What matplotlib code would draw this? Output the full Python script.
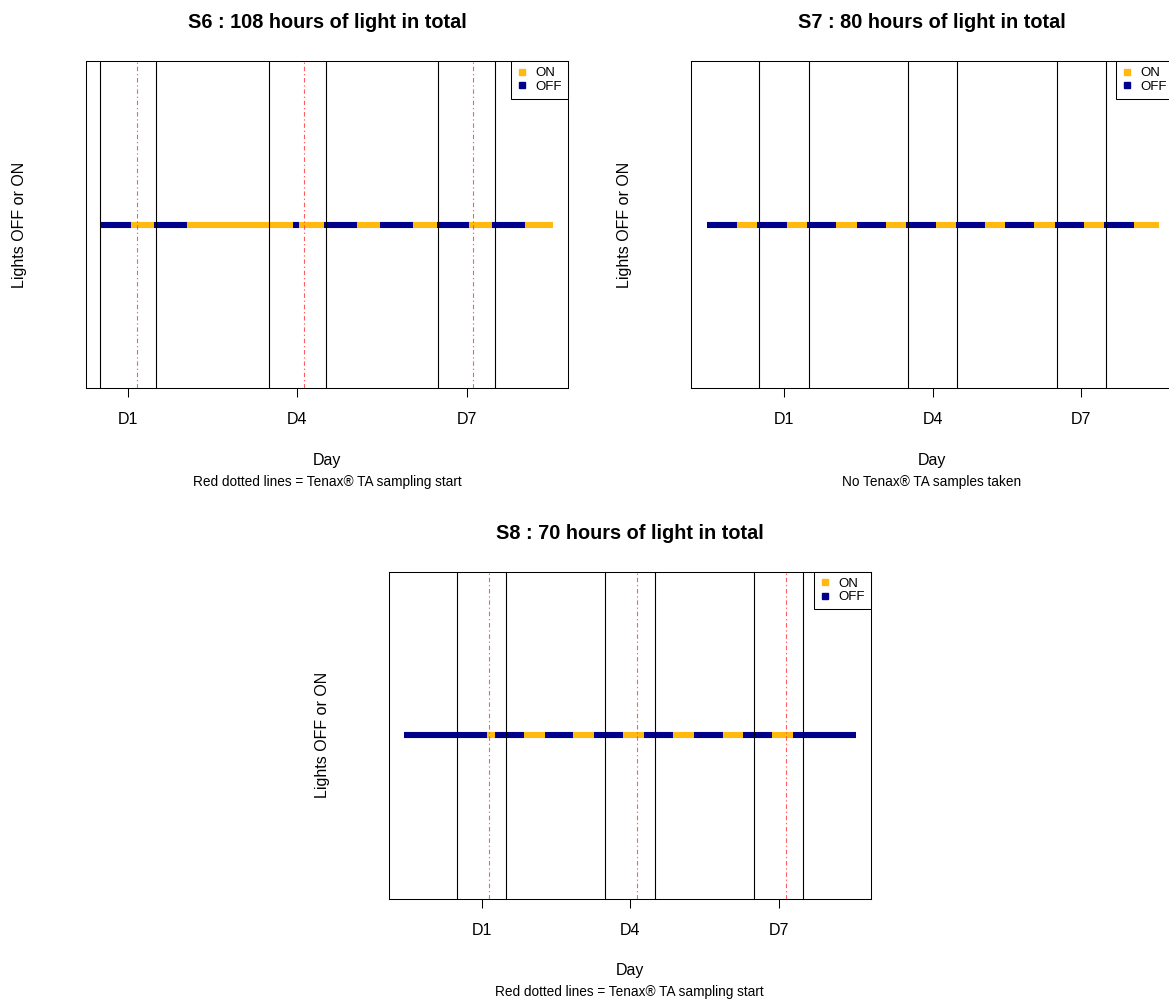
import numpy as np
import matplotlib
matplotlib.use("Agg")
import matplotlib.pyplot as plt
from matplotlib.lines import Line2D

plt.rcParams['font.family'] = ['Liberation Sans', 'DejaVu Sans']

# time axis in hours, D1 = hour 24
day_ticks = [24, 96, 168]
day_labels = ['D1', 'D4', 'D7']
window_lines = [12, 36, 84, 108, 156, 180]

s6_edges = [12.3, 25, 35, 49.2, 94.2, 96.7, 107.2, 121.3, 131, 145.1, 155.3, 169.2, 179, 193, 205]
s6_state = ['OFF', 'ON'] * 7
s6_sampling = [27.8, 98.8, 170.9]

s7_edges = [-13.2, 1.3, 11, 25.4, 35.3, 49.2, 59.2, 73.4, 83.1, 97.5, 107.2, 121.4,
            131.2, 145.2, 155.3, 169.5, 179.2, 193.4, 205.7]
s7_state = ['OFF', 'ON'] * 9
s7_sampling = []

s8_edges = [-13.5, 26.7, 30.7, 44.8, 54.9, 68.5, 78.7, 92.6, 102.8, 116.8, 126.9,
            141, 150.9, 165, 175, 205.6]
s8_state = ['OFF', 'ON'] * 7 + ['OFF']
s8_sampling = [27.7, 99.4, 171.6]

colours = {'ON': '#FFB90F', 'OFF': '#00008B'}

W, H = 1169, 1001
fig = plt.figure(figsize=(W / 100, H / 100), dpi=100)


def panel(left_px, top_px, xlim, edges, state, sampling, title, caption):
    width_px, height_px = 482, 327
    ax = fig.add_axes([left_px / W, 1 - (top_px + height_px) / H, width_px / W, height_px / H])
    cols = [colours[s] for s in state]
    ax.hlines([1] * len(state), edges[:-1], edges[1:], colors=cols, linewidth=4.4)
    for x in window_lines:
        ax.axvline(x, color='black', linewidth=0.8)
    for x in sampling:
        ax.axvline(x, color='#FF4040', linewidth=0.8, alpha=0.85,
                   linestyle=(0, (4, 2.5, 1.2, 2.5)))
    ax.set_xlim(xlim)
    ax.set_ylim(0.6, 1.4)
    ax.set_yticks([])
    ax.set_xticks(day_ticks)
    ax.set_xticklabels(day_labels, fontsize=11.5)
    ax.tick_params(axis='x', length=6.3, width=0.75, pad=11)
    for sp in ax.spines.values():
        sp.set_linewidth(0.75)
    ax.text(0.5, 1 + 38.5 / height_px, title, transform=ax.transAxes, ha='center',
            va='center', fontsize=14.3, fontweight='bold')
    ax.text(0.5, -72 / height_px, 'Day', transform=ax.transAxes, ha='center',
            va='center', fontsize=11.5)
    ax.text(0.5, -93.5 / height_px, caption, transform=ax.transAxes, ha='center',
            va='center', fontsize=9.8)
    ax.text(-66 / width_px, 0.5, 'Lights OFF or ON', transform=ax.transAxes, ha='center',
            va='center', rotation=90, fontsize=11.5)
    handles = [Line2D([], [], marker='s', linestyle='none', color=colours[k], markersize=4.5)
               for k in ['ON', 'OFF']]
    leg = ax.legend(handles, ['ON', 'OFF'], loc='upper right', borderaxespad=0,
                    fancybox=False, edgecolor='black', framealpha=1, fontsize=9.5,
                    handlelength=0.8, handletextpad=0.6, labelspacing=0.1,
                    borderpad=0.45)
    leg.get_frame().set_linewidth(0.75)
    return ax


panel(86, 61.3, (6.0, 211.2), s6_edges, s6_state, s6_sampling,
      'S6 : 108 hours of light in total', 'Red dotted lines = Tenax\u00ae TA sampling start')
panel(691, 61.3, (-21.1, 212.4), s7_edges, s7_state, s7_sampling,
      'S7 : 80 hours of light in total', 'No Tenax\u00ae TA samples taken')
panel(388.7, 571.7, (-21.0, 212.6), s8_edges, s8_state, s8_sampling,
      'S8 : 70 hours of light in total', 'Red dotted lines = Tenax\u00ae TA sampling start')

fig.savefig('out.png', dpi=100)
